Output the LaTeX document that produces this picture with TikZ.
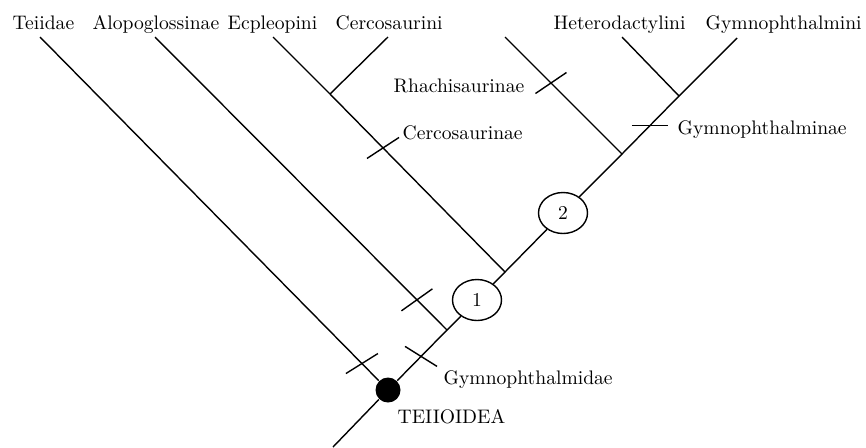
\documentclass[tikz,border=0pt]{standalone}
\usetikzlibrary{shapes.geometric,calc}
\begin{document}
\begin{tikzpicture}[x=0.5pt,y=-0.5pt,line width=0.7pt,
  lbl/.style={font=\fontsize{9.8}{12}\selectfont,inner sep=0pt,anchor=base west},
  lble/.style={lbl,anchor=base east},
  oval/.style={draw,ellipse,fill=white,minimum width=24.5pt,minimum height=20.5pt,inner sep=0pt,font=\fontsize{9.8}{12}\selectfont},
  blackdot/.style={circle,fill=black,inner sep=0pt,minimum size=12.5pt}]
\useasboundingbox (0,0) rectangle (866,447);
% tree points
\coordinate (root) at (333,447);
\node[blackdot] (dot) at (388,390) {};
\coordinate (j1) at (447,330);
\node[oval] (n1) at (477,300) {1};
\coordinate (j2) at (505,272);
\node[oval] (n2) at (563,213) {2};
\coordinate (j3) at (622,154);
\coordinate (j4) at (679,96);
\coordinate (jc) at (330,94);
% tips
\coordinate (tTei) at (40,37);
\coordinate (tAlo) at (155,37);
\coordinate (tEcp) at (273,37);
\coordinate (tCer) at (388,37);
\coordinate (tRha) at (505,37);
\coordinate (tHet) at (622,37);
\coordinate (tGym) at (737,38);
% branches
\draw (root) -- (dot) -- (j1) -- (n1) -- (j2) -- (n2) -- (j3) -- (j4) -- (tGym);
\draw (dot) -- (tTei);
\draw (j1) -- (tAlo);
\draw (j2) -- (jc) -- (tEcp);
\draw (jc) -- (tCer);
\draw (j3) -- (tRha);
\draw (j4) -- (tHet);
% ticks
\draw ($(dot)!0.075!(tTei)$) +(-16,10) -- +(16,-10);
\draw ($(j1)!0.103!(tAlo)$) +(-15.5,11) -- +(15.5,-11);
\draw ($(dot)!0.56!(j1)$) +(-16,-10) -- +(16,10);
\draw ($(j2)!0.697!(jc)$) +(-16,10.5) -- +(16,-10.5);
\draw ($(j3)!0.607!(tRha)$) +(-15.5,10.5) -- +(15.5,-10.5);
\draw ($(j3)!0.49!(j4)$) +(-18,0) -- +(18,0);
% labels
\node[lbl] (lTei) at (12,29) {Teiidae};
\node[lbl] (lAlo) at (92,29) {Alopoglossinae};
\node[lbl] (lEcp) at (227,29) {Ecpleopini};
\node[lbl] (lCer) at (335,29) {Cercosaurini};
\node[lbl] (lHet) at (553,29) {Heterodactylini};
\node[lbl] (lGym) at (705,29) {Gymnophthalmini};
\node[lble] (lRha) at (525,92) {Rhachisaurinae};
\node[lbl] (lCerc) at (402,139) {Cercosaurinae};
\node[lbl] (lGymn) at (677,134) {Gymnophthalminae};
\node[lbl] (lGymd) at (443,384) {Gymnophthalmidae};
\node[lbl] (lTeio) at (397,423) {TEIIOIDEA};
\end{tikzpicture}
\end{document}
